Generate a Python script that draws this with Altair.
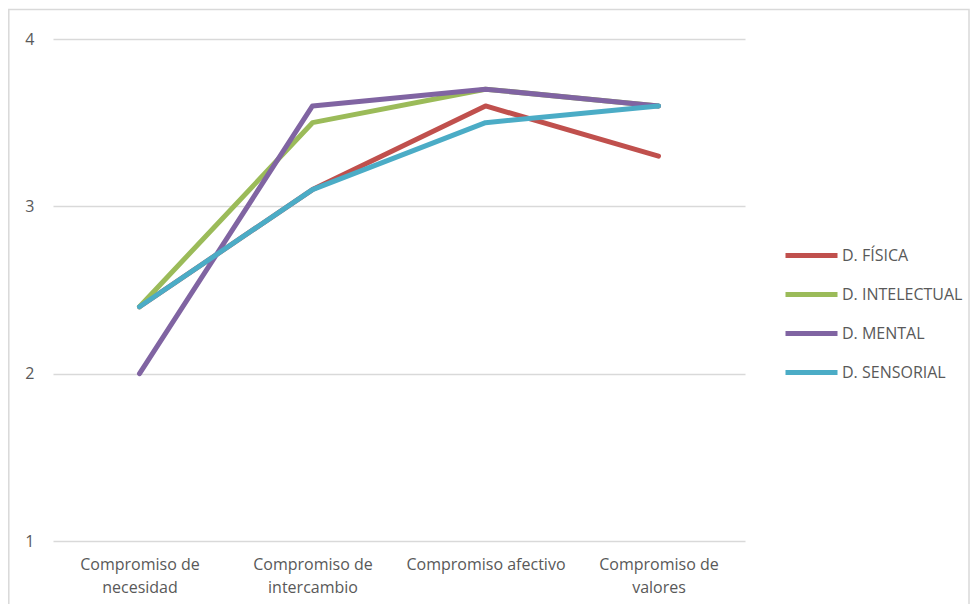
import altair as alt
import pandas as pd

categories = ["Compromiso de necesidad", "Compromiso de intercambio",
              "Compromiso afectivo", "Compromiso de valores"]
series = ["D. FÍSICA", "D. INTELECTUAL", "D. MENTAL", "D. SENSORIAL"]
fisica = [2.4, 3.1, 3.6, 3.3]
intelectual = [2.4, 3.5, 3.7, 3.6]
mental = [2.0, 3.6, 3.7, 3.6]
sensorial = [2.4, 3.1, 3.5, 3.6]
colors = ["#C0504D", "#9BBB59", "#8064A2", "#4BACC6"]
y_ticks = [1, 2, 3, 4]

rows = []
for s, vals in zip(series, [fisica, intelectual, mental, sensorial]):
    for i, (c, v) in enumerate(zip(categories, vals)):
        rows.append({"Categoria": c, "Serie": s, "Valor": v, "orden": series.index(s)})
df = pd.DataFrame(rows)

FONT = "Open Sans"
TXT = "#595959"
GRID = "#D9D9D9"

label_expr = (
    "datum.value == 'Compromiso de necesidad' ? ['Compromiso de', 'necesidad'] : "
    "datum.value == 'Compromiso de intercambio' ? ['Compromiso de', 'intercambio'] : "
    "datum.value == 'Compromiso de valores' ? ['Compromiso de', 'valores'] : datum.value"
)

W, H = 692, 502

lines = alt.Chart(df).mark_line(strokeWidth=5, strokeCap="round", strokeJoin="round").encode(
    x=alt.X("Categoria:N", sort=categories, scale=alt.Scale(type="point", padding=0.5),
            axis=alt.Axis(title=None, labelAngle=0, labelExpr=label_expr, domain=False,
                          ticks=False, tickSize=0, labelPadding=15, labelLineHeight=23,
                          labelFont=FONT, labelFontSize=16, labelColor=TXT, grid=False)),
    y=alt.Y("Valor:Q", scale=alt.Scale(domain=[1, 4], nice=False, zero=False),
            axis=alt.Axis(title=None, values=y_ticks, format="d", domain=False, ticks=False,
                          tickSize=0, labelPadding=19, labelFont=FONT, labelFontSize=16,
                          labelColor=TXT, gridColor=GRID, gridWidth=1.3)),
    color=alt.Color("Serie:N", sort=series,
                    scale=alt.Scale(domain=series, range=colors),
                    legend=alt.Legend(title=None, orient="none", legendX=730, legendY=188,
                                      symbolType="stroke", symbolSize=2704, symbolStrokeWidth=5,
                                      labelFont=FONT, labelFontSize=16, labelColor=TXT,
                                      labelOffset=2, rowPadding=0, padding=0)),
    order=alt.Order("orden:Q"),
    detail="Serie:N",
)

frame = alt.Chart(alt.Data(values=[{}])).mark_rect(fill=None, stroke=GRID, strokeWidth=1.5).encode(
    x=alt.value(-44.2), x2=alt.value(W + 224), y=alt.value(-29.5), y2=alt.value(H + 80)
)

chart = alt.layer(frame, lines).properties(
    width=W, height=H,
    autosize=alt.AutoSizeParams(type="none"),
    padding={"left": 45, "top": 31, "right": 225, "bottom": 63},
).configure_view(stroke=None)

chart.save("out.html", embed_options={"renderer": "svg", "actions": False})
